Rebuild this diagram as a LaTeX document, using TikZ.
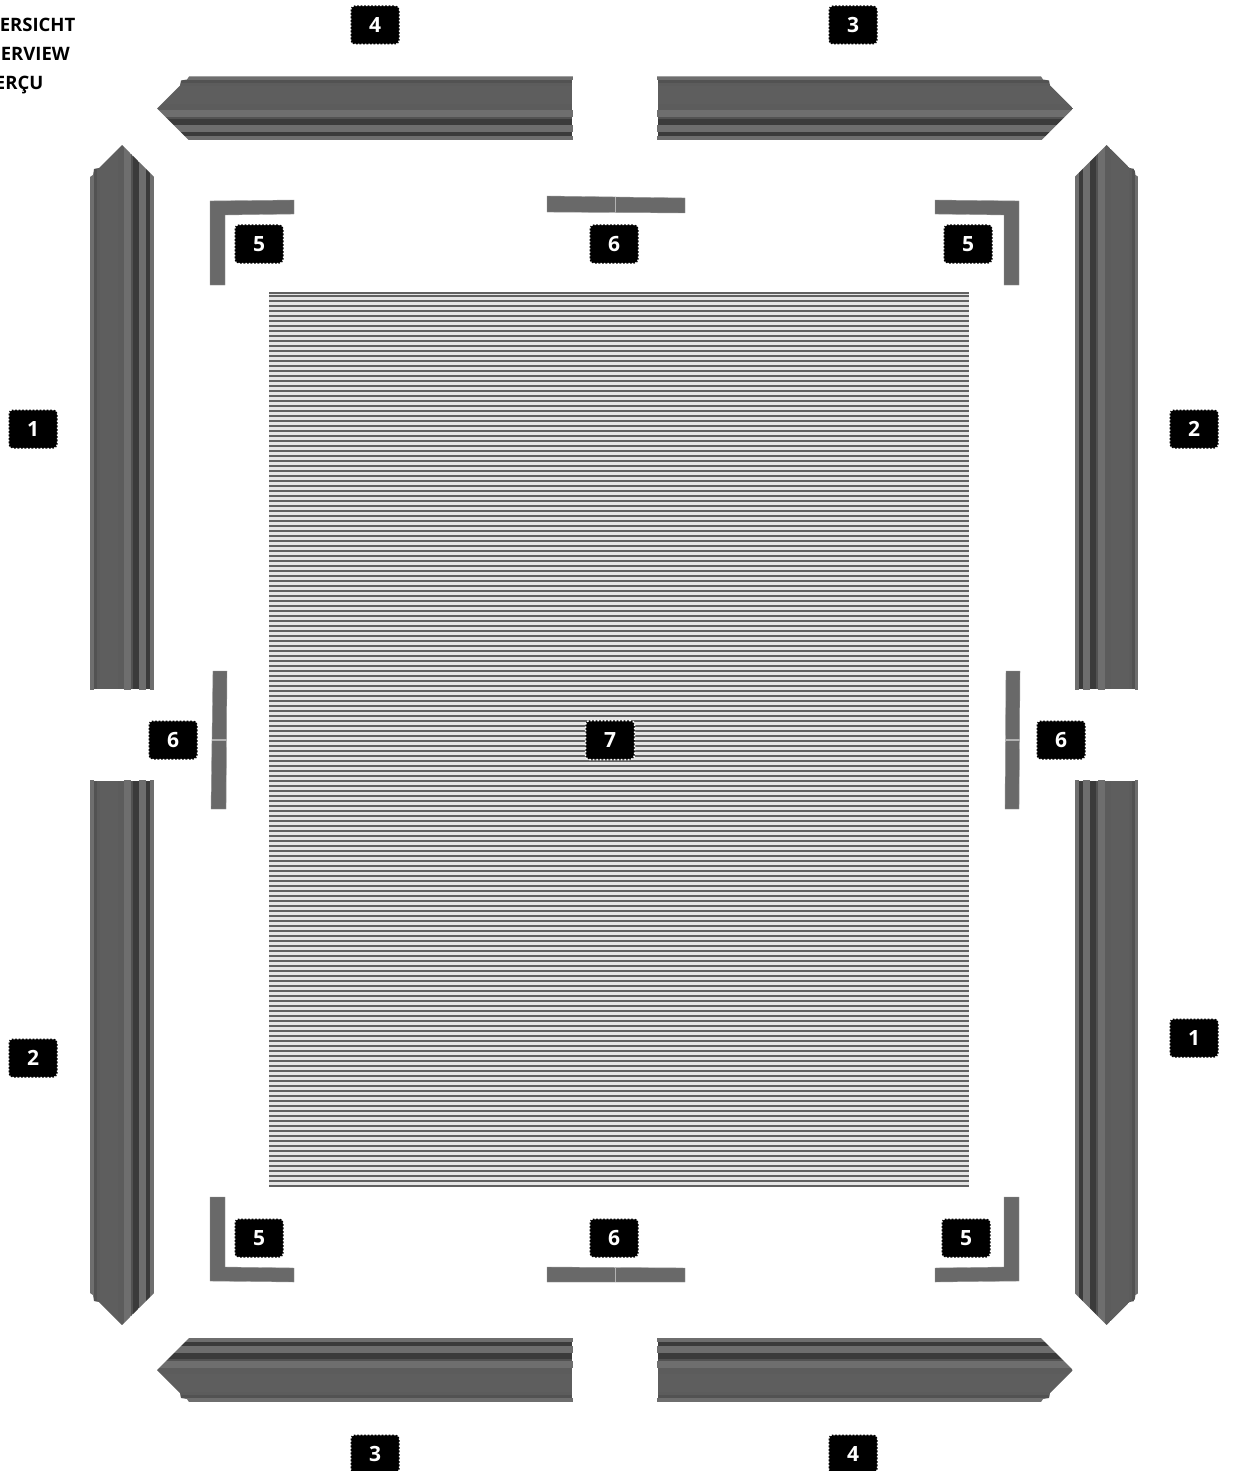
\documentclass[tikz,border=0pt]{standalone}
\usepackage{fontspec}
\setmainfont{Open Sans}
\usetikzlibrary{positioning}

\definecolor{railbody}{gray}{0.37}
\definecolor{railmid}{gray}{0.32}
\definecolor{raillight}{gray}{0.43}
\definecolor{raildark}{gray}{0.23}
\definecolor{partgray}{gray}{0.41}
\definecolor{slatgray}{gray}{0.38}
\definecolor{slatback}{gray}{0.9}

% rail: tip x, tip y, vector along the rail, vector towards the inner side, length
\newcommand{\railbar}[5]{
  \begin{scope}[shift={(#1,#2)},x={#3},y={#4}]
    \begin{scope}
      \clip (0,0) -- (23,-23) -- (24,-28) -- (30,-29) -- (32,-32) -- (#5,-32) -- (#5,32) -- (32,32) -- cycle;
      \foreach \ya/\yb/\ex/\col in {-32/-28/0/raillight, -28/-25/-1/railmid, -25/-22/-1/railbody!80!railmid, -22/-4/-1/railbody, -4/2/-1/railbody!80!railmid,
          2/9/0/raillight, 9/11/-1/railmid, 11/17/-1/raildark, 17/24/0/raillight, 24/28/-1/raildark, 28/32/0/raillight} {
        \fill[\col] (0,\ya) rectangle ({#5+\ex},\yb);
      }
    \end{scope}
  \end{scope}
}

\begin{document}
\begin{tikzpicture}[
    x=1pt, y=-1pt,
    numbadge/.style={rectangle, rounded corners=4pt, fill=black, draw=white, dash pattern=on 1.6pt off 1.9pt, line width=1.5pt, minimum width=49pt, minimum height=39pt, inner sep=0pt, text=white, font=\fontsize{21}{21}\selectfont\bfseries},
    overtext/.style={anchor=base east, inner sep=0pt, text=black, font=\fontsize{18.5}{18.5}\selectfont\bfseries},
    partfill/.style={fill=partgray, draw=partgray!70!white, line width=0.4pt},
    splitline/.style={draw=gray!60!white, line width=1.2pt},
    slatline/.style={slatgray, line width=2.4pt}
]
\useasboundingbox (0,0) rectangle (1232,1471);
\fill[white] (0,0) rectangle (1232,1471);

% heading
\node[overtext] (head1) at (75.5,32) {ERSICHT};
\node[overtext] (head2) at (70,61) {ERVIEW};
\node[overtext] (head3) at (43.5,90) {ERÇU};

% rails
\railbar{157}{108.5}{(1pt,0pt)}{(0pt,-1pt)}{416}
\railbar{1073}{108.5}{(-1pt,0pt)}{(0pt,-1pt)}{416}
\railbar{157}{1370}{(1pt,0pt)}{(0pt,1pt)}{416}
\railbar{1073}{1370}{(-1pt,0pt)}{(0pt,1pt)}{416}
\railbar{122}{145}{(0pt,-1pt)}{(1pt,0pt)}{545}
\railbar{1106.5}{145}{(0pt,-1pt)}{(-1pt,0pt)}{545}
\railbar{122}{1325}{(0pt,1pt)}{(1pt,0pt)}{545}
\railbar{1106.5}{1325}{(0pt,1pt)}{(-1pt,0pt)}{545}

% corner pieces
\fill[partfill] (210,201) -- (294,200) -- (294,214) -- (225,215) -- (225,285) -- (210,285) -- cycle;
\fill[partfill] (935,200) -- (1019,201) -- (1019,285) -- (1004,285) -- (1004,215) -- (935,214) -- cycle;
\fill[partfill] (210,1197) -- (225,1197) -- (225,1267) -- (294,1268) -- (294,1282) -- (210,1281) -- cycle;
\fill[partfill] (1004,1197) -- (1019,1197) -- (1019,1281) -- (935,1282) -- (935,1268) -- (1004,1267) -- cycle;

% joint pieces
\fill[partfill] (547,196) -- (685,198) -- (685,213) -- (547,212) -- cycle;
\draw[splitline] (615.5,197) -- (615.5,213);
\fill[partfill] (547,1267) -- (685,1268) -- (685,1282) -- (547,1282) -- cycle;
\draw[splitline] (615.5,1267) -- (615.5,1282);
\fill[partfill] (213,671) -- (227,671) -- (226,809) -- (211,809) -- cycle;
\draw[splitline] (212,740) -- (227,740);
\fill[partfill] (1006,671) -- (1020,671) -- (1019,809) -- (1005,809) -- cycle;
\draw[splitline] (1005,740) -- (1020,740);

% slats
\fill[slatback] (269,292) rectangle (969,1187);
\foreach \ys in {293.2,296.2,301.2,...,1187} {
  \draw[slatline] (269,\ys) -- (969,\ys);
}

% numbers
\node[numbadge] (n4a) at (375,25) {4};
\node[numbadge] (n3a) at (853,25) {3};
\node[numbadge] (n5a) at (259,244) {5};
\node[numbadge] (n6a) at (614,244) {6};
\node[numbadge] (n5b) at (968,244) {5};
\node[numbadge] (n1a) at (33,429) {1};
\node[numbadge] (n2a) at (1194,429) {2};
\node[numbadge] (n6b) at (173,740) {6};
\node[numbadge] (n7) at (610,740) {7};
\node[numbadge] (n6c) at (1061,740) {6};
\node[numbadge] (n2b) at (33,1058) {2};
\node[numbadge] (n1b) at (1194,1038) {1};
\node[numbadge] (n5c) at (259,1238) {5};
\node[numbadge] (n6d) at (614,1238) {6};
\node[numbadge] (n5d) at (966,1238) {5};
\node[numbadge] (n3b) at (375,1454) {3};
\node[numbadge] (n4b) at (853,1454) {4};
\end{tikzpicture}
\end{document}
